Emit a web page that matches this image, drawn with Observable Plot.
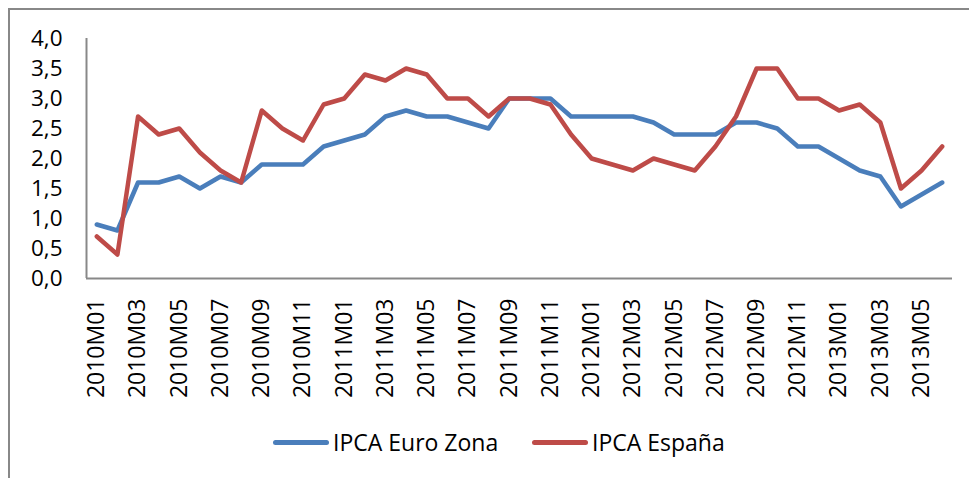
<!DOCTYPE html>
<html>
<head>
<meta charset="utf-8">
<script src="https://cdn.jsdelivr.net/npm/d3@7"></script>
<script src="https://cdn.jsdelivr.net/npm/@observablehq/plot@0.6"></script>
<style>
  html, body { margin: 0; padding: 0; background: #fff; }
  #wrap { position: relative; width: 969px; height: 478px; overflow: hidden; font-family: "Open Sans", sans-serif; }
  #border { position: absolute; left: 8px; top: 8px; right: -10px; bottom: -10px; border-top: 2px solid #888; border-left: 2px solid #888; }
  #chart { position: absolute; left: 0; top: 0; }
  #legend { position: absolute; top: 425px; left: 0; width: 969px; height: 34px; }
  .item { position: absolute; top: 0; height: 34px; display: flex; align-items: center; font-size: 23px; color: #000; white-space: nowrap; }
  .sw { display: inline-block; width: 56px; height: 5px; border-radius: 3px; margin-right: 4px; }
</style>
</head>
<body>
<div id="wrap">
  <div id="border"></div>
  <div id="chart"></div>
  <div id="legend"></div>
</div>
<script>
const months = [
  "2010M01","2010M02","2010M03","2010M04","2010M05","2010M06","2010M07","2010M08","2010M09","2010M10","2010M11","2010M12",
  "2011M01","2011M02","2011M03","2011M04","2011M05","2011M06","2011M07","2011M08","2011M09","2011M10","2011M11","2011M12",
  "2012M01","2012M02","2012M03","2012M04","2012M05","2012M06","2012M07","2012M08","2012M09","2012M10","2012M11","2012M12",
  "2013M01","2013M02","2013M03","2013M04","2013M05","2013M06"
];
const tickLabels = ["2010M01","2010M03","2010M05","2010M07","2010M09","2010M11","2011M01","2011M03","2011M05","2011M07","2011M09","2011M11",
  "2012M01","2012M03","2012M05","2012M07","2012M09","2012M11","2013M01","2013M03","2013M05"];
const seriesNames = ["IPCA Euro Zona", "IPCA España"];
const euroZona = [0.9,0.8,1.6,1.6,1.7,1.5,1.7,1.6,1.9,1.9,1.9,2.2,
  2.3,2.4,2.7,2.8,2.7,2.7,2.6,2.5,3.0,3.0,3.0,2.7,
  2.7,2.7,2.7,2.6,2.4,2.4,2.4,2.6,2.6,2.5,2.2,2.2,
  2.0,1.8,1.7,1.2,1.4,1.6];
const espana = [0.7,0.4,2.7,2.4,2.5,2.1,1.8,1.6,2.8,2.5,2.3,2.9,
  3.0,3.4,3.3,3.5,3.4,3.0,3.0,2.7,3.0,3.0,2.9,2.4,
  2.0,1.9,1.8,2.0,1.9,1.8,2.2,2.7,3.5,3.5,3.0,3.0,
  2.8,2.9,2.6,1.5,1.8,2.2];
const yTicks = [0,0.5,1,1.5,2,2.5,3,3.5,4];
const colors = ["#4A7EBB", "#BE4B48"];

const rows = [];
months.forEach((m, i) => {
  rows.push({i, month: m, series: seriesNames[0], value: euroZona[i]});
});
months.forEach((m, i) => {
  rows.push({i, month: m, series: seriesNames[1], value: espana[i]});
});
const tickIdx = tickLabels.map(l => months.indexOf(l));

const plot = Plot.plot({
  width: 969,
  height: 410,
  marginLeft: 86,
  marginRight: 17,
  marginTop: 38,
  marginBottom: 132,
  style: {fontFamily: "Open Sans, sans-serif", color: "#000", background: "transparent", overflow: "visible"},
  x: {type: "linear", domain: [-0.5, months.length - 0.5]},
  y: {domain: [0, 4]},
  color: {domain: seriesNames, range: colors},
  marks: [
    Plot.axisY({ticks: yTicks, tickSize: 0, tickPadding: 24, fontSize: 22.5, label: null,
      tickFormat: d => d.toFixed(1).replace(".", ",")}),
    Plot.axisX({ticks: tickIdx, tickSize: 0, tickPadding: 20, tickRotate: -90, fontSize: 23, label: null,
      tickFormat: d => months[d]}),
    Plot.ruleY([0], {stroke: "#888", strokeWidth: 2}),
    Plot.ruleX([-0.5], {stroke: "#888", strokeWidth: 2}),
    Plot.line(rows, {x: "i", y: "value", z: "series", stroke: "series", strokeWidth: 4.5,
      strokeLinejoin: "round", strokeLinecap: "round"})
  ]
});
document.getElementById("chart").appendChild(plot);

const legend = document.getElementById("legend");
const lefts = [273, 532];
seriesNames.forEach((name, k) => {
  const it = document.createElement("div");
  it.className = "item";
  it.style.left = lefts[k] + "px";
  const sw = document.createElement("span");
  sw.className = "sw";
  sw.style.background = colors[k];
  it.appendChild(sw);
  it.appendChild(document.createTextNode(name));
  legend.appendChild(it);
});
</script>
</body>
</html>
